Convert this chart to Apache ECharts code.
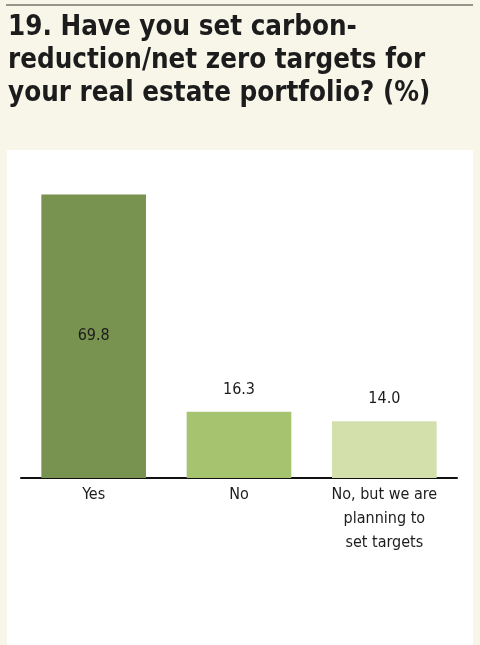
<!DOCTYPE html>
<html>
<head>
<meta charset="utf-8">
<script src="https://cdn.jsdelivr.net/npm/echarts@6/dist/echarts.min.js"></script>
<style>
html,body{margin:0;padding:0;background:#f7f6e9;}
#chart{width:480px;height:645px;}
</style>
</head>
<body>
<div id="chart"></div>
<script>
const categories = ["Yes", "No", "No, but we are\nplanning to\nset targets"];
const values = [69.8, 16.3, 14.0];
const valueLabels = ["69.8", "16.3", "14.0"];
const titleText = "19. Have you set carbon-\nreduction/net zero targets for\nyour real estate portfolio? (%)";

const barColors = ["#78924f", "#a6c470", "#d3e0ac"];
const labelPositions = ["inside", "top", "top"];
const condensed = "'DejaVu Sans Condensed', sans-serif";

const chart = echarts.init(document.getElementById('chart'));
chart.setOption({
  backgroundColor: '#f7f6e9',
  animation: false,
  title: {
    text: titleText,
    left: 8,
    top: 11,
    padding: 0,
    textStyle: {
      fontFamily: "'DejaVu Sans Condensed', sans-serif",
      fontWeight: 'bold',
      fontSize: 27.5,
      lineHeight: 33,
      color: '#1c1c1c'
    }
  },
  graphic: [
    { type: 'line', z: 0, shape: { x1: 6, y1: 5, x2: 473, y2: 5 }, style: { stroke: '#76766e', lineWidth: 1.5 } },
    { type: 'rect', z: -1, shape: { x: 7, y: 150, width: 466, height: 495 }, style: { fill: '#ffffff' } }
  ],
  grid: { left: 21, right: 23, top: 153, bottom: 167 },
  xAxis: {
    type: 'category',
    data: categories,
    axisLine: { lineStyle: { color: '#111', width: 2 } },
    axisTick: { show: false },
    axisLabel: {
      interval: 0,
      margin: 5,
      color: '#1c1c1c',
      fontFamily: condensed,
      fontSize: 16,
      lineHeight: 24
    }
  },
  yAxis: {
    type: 'value',
    min: 0,
    max: 80,
    show: false,
    splitLine: { show: false }
  },
  series: [{
    type: 'bar',
    barWidth: '72%',
    data: values.map((v, i) => ({
      value: v,
      itemStyle: { color: barColors[i] },
      label: {
        show: true,
        position: labelPositions[i],
        distance: 14,
        formatter: () => valueLabels[i],
        color: '#1c1c1c',
        fontFamily: condensed,
        fontSize: 16
      }
    }))
  }]
});
</script>
</body>
</html>
